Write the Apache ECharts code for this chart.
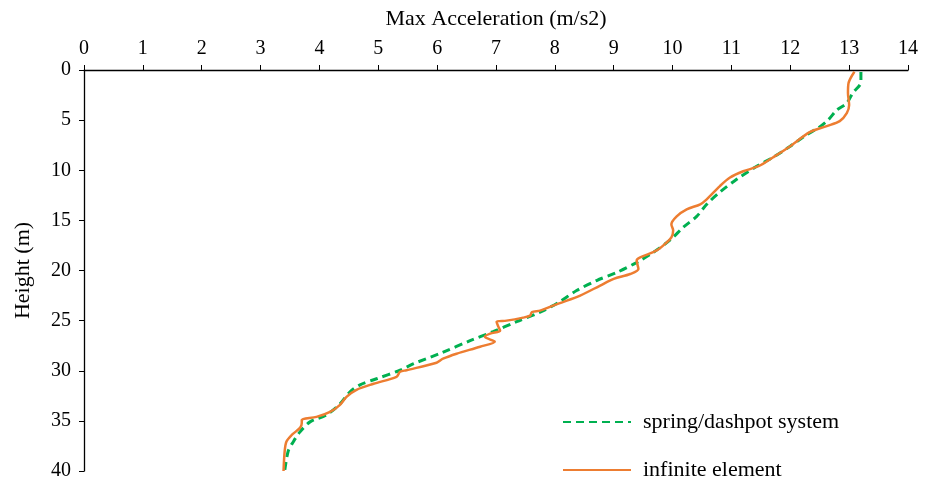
<!DOCTYPE html>
<html>
<head>
<meta charset="utf-8">
<script src="https://cdn.jsdelivr.net/npm/echarts@6/dist/echarts.min.js"></script>
<style>
html,body{margin:0;padding:0;background:#fff;}
#chart{width:932px;height:481px;}
</style>
</head>
<body>
<div id="chart"></div>
<script>
// ---- data (Height in m, Max Acceleration in m/s2) ----
const xTickLabels = ['0','1','2','3','4','5','6','7','8','9','10','11','12','13','14'];
const yTickLabels = ['0','5','10','15','20','25','30','35','40'];
const seriesNames = ['spring/dashpot system', 'infinite element'];

const springHeight = [0.2,1.2,2.3,3.3,4.0,5.0,5.8,6.45,7.6,8.7,9.6,10.9,12.2,13.4,14.6,15.7,16.9,18.2,19.2,20.2,21.0,22.0,23.2,24.15,25.1,26.1,27.0,28.2,29.3,29.95,30.8,31.4,32.1,33.3,34.4,35.1,36.1,37.05,38.0,40.0];
const springAccel  = [13.2,13.2,13.06,12.96,12.79,12.64,12.47,12.28,12.0,11.71,11.43,11.09,10.8,10.58,10.41,10.18,9.97,9.67,9.39,9.05,8.71,8.37,8.06,7.75,7.35,6.95,6.56,6.08,5.6,5.37,4.97,4.69,4.52,4.35,4.12,3.84,3.67,3.56,3.47,3.41];

const infiniteHeight = [0.17,1.3,2.3,3.5,4.3,5.1,5.6,6.2,7.6,8.7,9.6,10.1,10.75,11.6,12.9,13.4,13.9,14.6,15.4,16.0,16.7,17.3,18.0,18.7,19.0,19.85,20.35,20.84,21.5,22.5,23.3,24.0,24.15,24.5,24.7,25.0,25.1,25.6,26.0,26.3,26.6,26.95,27.1,27.6,28.3,28.8,29.2,29.95,30.1,30.6,31.3,31.9,32.6,33.4,34.1,34.6,34.9,35.2,35.7,36.4,37.05,38.0,40.0];
const infiniteAccel  = [13.09,12.99,12.98,13.0,12.96,12.84,12.62,12.33,12.0,11.71,11.46,11.2,10.97,10.8,10.58,10.47,10.24,10.07,9.98,10.01,9.98,9.88,9.73,9.45,9.39,9.42,9.28,9.0,8.77,8.43,8.06,7.75,7.61,7.58,7.46,7.18,7.01,7.04,7.07,6.9,6.81,6.93,6.98,6.73,6.33,6.1,5.99,5.48,5.37,5.31,4.92,4.63,4.46,4.35,4.18,3.95,3.7,3.7,3.67,3.53,3.44,3.41,3.39];

const FONT = '"Liberation Serif", "Times New Roman", serif';
const pairs = (xs, ys) => xs.map((x, i) => [x, ys[i]]);

function legendFor(name, top) {
  return {
    show: true,
    orient: 'horizontal',
    left: 557,
    top: top,
    itemWidth: 68,
    itemHeight: 14,
    data: [name],
    itemStyle: {opacity: 0, borderWidth: 0},
    textStyle: {fontFamily: FONT, fontSize: 22, color: '#000', padding: [0, 0, 0, 7]}
  };
}

const chart = echarts.init(document.getElementById('chart'), null, {renderer: 'canvas'});
chart.setOption({
  animation: false,
  backgroundColor: '#ffffff',
  grid: {left: 84, right: 24, top: 70, bottom: 8, containLabel: false},
  legend: [legendFor(seriesNames[0], 406), legendFor(seriesNames[1], 454)],
  xAxis: {
    type: 'value',
    position: 'top',
    min: 0, max: 14, interval: 1,
    name: 'Max Acceleration (m/s2)',
    nameLocation: 'middle',
    nameGap: 40,
    nameTextStyle: {fontFamily: FONT, fontSize: 22, color: '#000'},
    axisLine: {show: true, lineStyle: {color: '#000', width: 1.3}},
    axisTick: {show: true, inside: false, length: 5, lineStyle: {color: '#000'}},
    axisLabel: {fontFamily: FONT, fontSize: 20, color: '#000', margin: 11,
      formatter: v => xTickLabels[Math.round(v)]},
    splitLine: {show: false}
  },
  yAxis: {
    type: 'value',
    inverse: true,
    min: 0, max: 40, interval: 5,
    name: 'Height (m)',
    nameLocation: 'middle',
    nameGap: 50,
    nameTextStyle: {fontFamily: FONT, fontSize: 22, color: '#000'},
    axisLine: {show: true, lineStyle: {color: '#000', width: 1.3}},
    axisTick: {show: true, inside: false, length: 5, lineStyle: {color: '#000'}},
    axisLabel: {fontFamily: FONT, fontSize: 20, color: '#000', margin: 13,
      formatter: v => yTickLabels[Math.round(v / 5)]},
    splitLine: {show: false}
  },
  series: [
    {
      name: seriesNames[0],
      type: 'line',
      data: pairs(springAccel, springHeight),
      showSymbol: false,
      symbol: 'none',
      smooth: 0.3,
      lineStyle: {color: '#00B050', width: 3, type: [8, 5]},
      itemStyle: {color: '#00B050'},
      z: 2
    },
    {
      name: seriesNames[1],
      type: 'line',
      data: pairs(infiniteAccel, infiniteHeight),
      showSymbol: false,
      symbol: 'none',
      smooth: 0.3,
      lineStyle: {color: '#ED7D31', width: 2.5},
      itemStyle: {color: '#ED7D31'},
      z: 3
    }
  ]
});
</script>
</body>
</html>
